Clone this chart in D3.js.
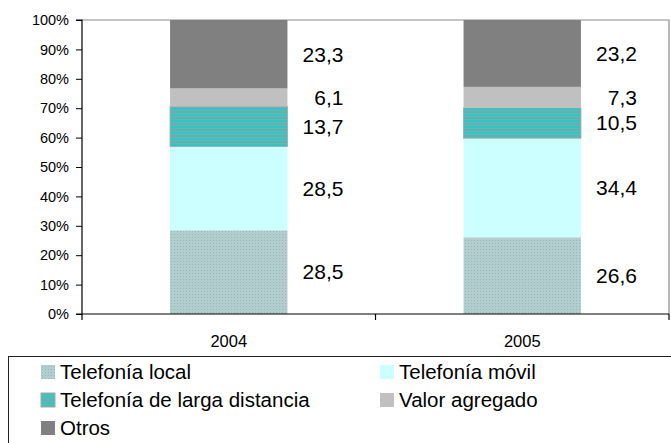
<!DOCTYPE html>
<html><head><meta charset="utf-8">
<script src="https://cdn.jsdelivr.net/npm/d3@7"></script>
<style>body{margin:0;background:#fff}svg{display:block;font-family:"Liberation Sans",Arial,sans-serif}</style>
</head><body><svg id="c" width="671" height="443"></svg>
<script>
const years = ["2004", "2005"];
const seriesNames = ["Telefonía local", "Telefonía móvil", "Telefonía de larga distancia", "Valor agregado", "Otros"];
const telLocal = [28.5, 26.6];
const telMovil = [28.5, 34.4];
const telLarga = [13.7, 10.5];
const valorAgregado = [6.1, 7.3];
const otros = [23.3, 23.2];
const yTicks = [0, 0.1, 0.2, 0.3, 0.4, 0.5, 0.6, 0.7, 0.8, 0.9, 1];

const seriesValues = [telLocal, telMovil, telLarga, valorAgregado, otros];
const keys = ["local", "movil", "larga", "valor", "otros"];
const table = years.map((y, i) => {
  const r = {year: y};
  keys.forEach((k, j) => r[k] = seriesValues[j][i]);
  return r;
});

const svg = d3.select("#c");
const defs = svg.append("defs");
const p1 = defs.append("pattern").attr("id", "pLocal").attr("width", 3).attr("height", 3).attr("patternUnits", "userSpaceOnUse");
p1.append("rect").attr("width", 3).attr("height", 3).attr("fill", "#b1cdcd");
p1.append("rect").attr("width", 1).attr("height", 1).attr("fill", "#98b9b9");
const p2 = defs.append("pattern").attr("id", "pLarga").attr("width", 4).attr("height", 3).attr("patternUnits", "userSpaceOnUse");
p2.append("rect").attr("width", 4).attr("height", 3).attr("fill", "#33c4c4");
p2.append("rect").attr("y", 2).attr("width", 4).attr("height", 1).attr("fill", "#8aa6a6");

const fills = {local: "url(#pLocal)", movil: "#ccffff", larga: "url(#pLarga)", valor: "#c0c0c0", otros: "#808080"};

const L = 82, R = 669, T = 20, B = 314;
const x = d3.scaleBand().domain(years).range([L, R]).padding(0);
const y = d3.scaleLinear().domain([0, 1]).range([B, T]);

const stack = d3.stack().keys(keys).offset(d3.stackOffsetExpand);
const layers = stack(table);

svg.append("path").attr("d", `M${L},${T}H${R}V${B}`).attr("fill", "none").attr("stroke", "#8c8c8c").attr("stroke-width", 1.2);

const barW = x.bandwidth() * 0.4;
layers.forEach((layer, li) => {
  svg.append("g").selectAll("rect").data(layer).join("rect")
    .attr("x", d => x(d.data.year) + (x.bandwidth() - barW) / 2)
    .attr("width", barW)
    .attr("y", d => y(d[1]))
    .attr("height", d => y(d[0]) - y(d[1]))
    .attr("fill", fills[layer.key])
    .attr("stroke", li === 2 ? "#9aa" : "none")
    .attr("stroke-width", 0.8);
  svg.append("g").selectAll("text").data(layer).join("text")
    .attr("x", d => x(d.data.year) + (x.bandwidth() + barW) / 2 + 56)
    .attr("y", d => y((d[0] + d[1]) / 2))
    .attr("dy", "0.35em")
    .attr("text-anchor", "end")
    .attr("font-size", 21)
    .text((d, i) => String(seriesValues[li][i]).replace(".", ","));
});

const yAxis = svg.append("g").attr("transform", `translate(${L},0)`)
  .call(d3.axisLeft(y).tickValues(yTicks).tickFormat(d3.format(".0%")).tickSize(6).tickPadding(7));
yAxis.select(".domain").attr("stroke", "#000").attr("stroke-width", 1.2).attr("d", `M-6,${T}H0V${B}H-6`);
yAxis.selectAll("text").attr("font-size", 14.5).attr("font-family", "Liberation Sans, Arial").attr("fill", "#000");

const xAxis = svg.append("g").attr("transform", `translate(0,${B})`)
  .call(d3.axisBottom(x).tickSize(0).tickPadding(21));
xAxis.select(".domain").attr("stroke", "#000").attr("stroke-width", 1.2).attr("d", `M${L},0H${R}`);
xAxis.selectAll("text").attr("font-size", 16.5).attr("font-family", "Liberation Sans, Arial").attr("fill", "#000");
const bounds = years.map(d => x(d)).concat([x.range()[1]]);
svg.append("g").selectAll("line").data(bounds).join("line")
  .attr("x1", d => d).attr("x2", d => d).attr("y1", B).attr("y2", B + 6)
  .attr("stroke", "#000").attr("stroke-width", 1.2);

const lg = svg.append("g");
lg.append("rect").attr("x", 8.5).attr("y", 356.5).attr("width", 700).attr("height", 120)
  .attr("fill", "#fff").attr("stroke", "#222").attr("stroke-width", 1);
const legendPos = [[41, 0], [380, 0], [41, 1], [380, 1], [41, 2]];
seriesNames.forEach((n, i) => {
  const [lx, row] = legendPos[i];
  const cy = 372 + row * 28;
  lg.append("rect").attr("x", lx).attr("y", cy - 7).attr("width", 14).attr("height", 14).attr("fill", fills[keys[i]])
    .attr("stroke", i === 2 ? "#9aa" : "none");
  lg.append("text").attr("x", lx + 19).attr("y", cy).attr("dy", "0.35em").attr("font-size", 20.5).text(n);
});
</script></body></html>
